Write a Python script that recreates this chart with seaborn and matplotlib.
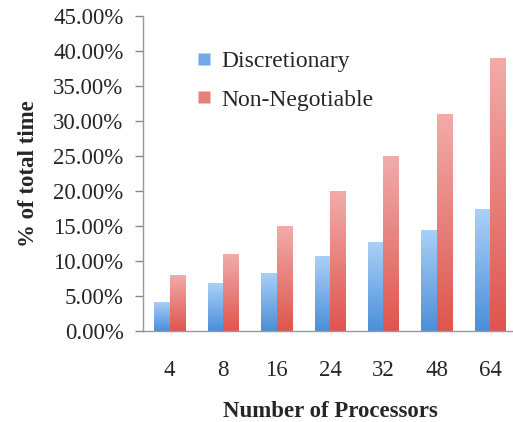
import matplotlib
matplotlib.use("Agg")
import matplotlib.pyplot as plt
from matplotlib.colors import LinearSegmentedColormap
from matplotlib.lines import Line2D
import pandas as pd
import numpy as np
import seaborn as sns

processors = ["4", "8", "16", "24", "32", "48", "64"]
discretionary = [4.2, 6.85, 8.35, 10.75, 12.7, 14.5, 17.4]
non_negotiable = [7.95, 10.95, 14.95, 19.95, 25.0, 31.0, 39.0]
series = ["Discretionary", "Non-Negotiable"]

df = pd.DataFrame({
    "proc": processors * 2,
    "value": discretionary + non_negotiable,
    "series": [series[0]] * 7 + [series[1]] * 7,
})

sns.set_style("white")
plt.rcParams["font.family"] = ["Liberation Serif", "DejaVu Serif"]

# gradient colours (top -> bottom)
grads = {
    series[0]: ("#abd0f9", "#4a8fd8"),
    series[1]: ("#f1acaa", "#df554e"),
}
mid = {series[0]: "#6fa9e8", series[1]: "#e87e78"}

fig = plt.figure(figsize=(5.13, 4.22), dpi=100)
ax = fig.add_axes([143 / 513, 91 / 422, 374 / 513, 315 / 422])

sns.barplot(data=df, x="proc", y="value", hue="series", order=processors,
            hue_order=series, palette=mid, width=0.58, ax=ax,
            legend=False, saturation=1)

# paint a vertical gradient into every bar
for cont, s in zip(ax.containers, series):
    cmap = LinearSegmentedColormap.from_list(s, [grads[s][1], grads[s][0]])
    for bar in cont:
        x0, y0 = bar.get_x(), bar.get_y()
        w, h = bar.get_width(), bar.get_height()
        grad = np.linspace(0, 1, 256).reshape(-1, 1)
        im = ax.imshow(grad, cmap=cmap, origin="lower", aspect="auto",
                       extent=[x0, x0 + w, y0, y0 + h], zorder=2)
        im.set_clip_path(bar)
        bar.set_facecolor("none")
        bar.set_edgecolor("none")

ax.set_xlim(-0.5, 6.5)
ax.set_ylim(0, 45)
ax.set_yticks(np.arange(0, 46, 5))
ax.set_yticklabels([f"{v:.2f}%" for v in np.arange(0, 46, 5)], fontsize=16.5)
ax.set_xticks(range(7))
ax.set_xticklabels(processors, fontsize=16.5)
ax.set_xticks(np.arange(-0.5, 7, 1), minor=True)
ax.tick_params(axis="x", which="major", length=0, pad=21)
ax.tick_params(axis="x", which="minor", length=5, color="#888888", width=1)
ax.tick_params(axis="y", length=6, color="#888888", width=1, pad=8, left=True)

for side in ["top", "right"]:
    ax.spines[side].set_visible(False)
for side in ["left", "bottom"]:
    ax.spines[side].set_color("#999999")
    ax.spines[side].set_linewidth(1)

ax.set_xlabel("Number of Processors", fontsize=16.5, fontweight="bold", labelpad=14)
ax.set_ylabel("% of total time", fontsize=16.5, fontweight="bold", labelpad=10)

handles = [Line2D([], [], marker="s", linestyle="none", markersize=8.5,
                  markerfacecolor=mid[s], markeredgecolor="none") for s in series]
ax.legend(handles, series, loc="upper left", bbox_to_anchor=(0.12, 0.92),
          frameon=False, fontsize=17, handlelength=0.6, handletextpad=0.4,
          labelspacing=0.72, borderaxespad=0)

fig.savefig("out.png", dpi=100)
